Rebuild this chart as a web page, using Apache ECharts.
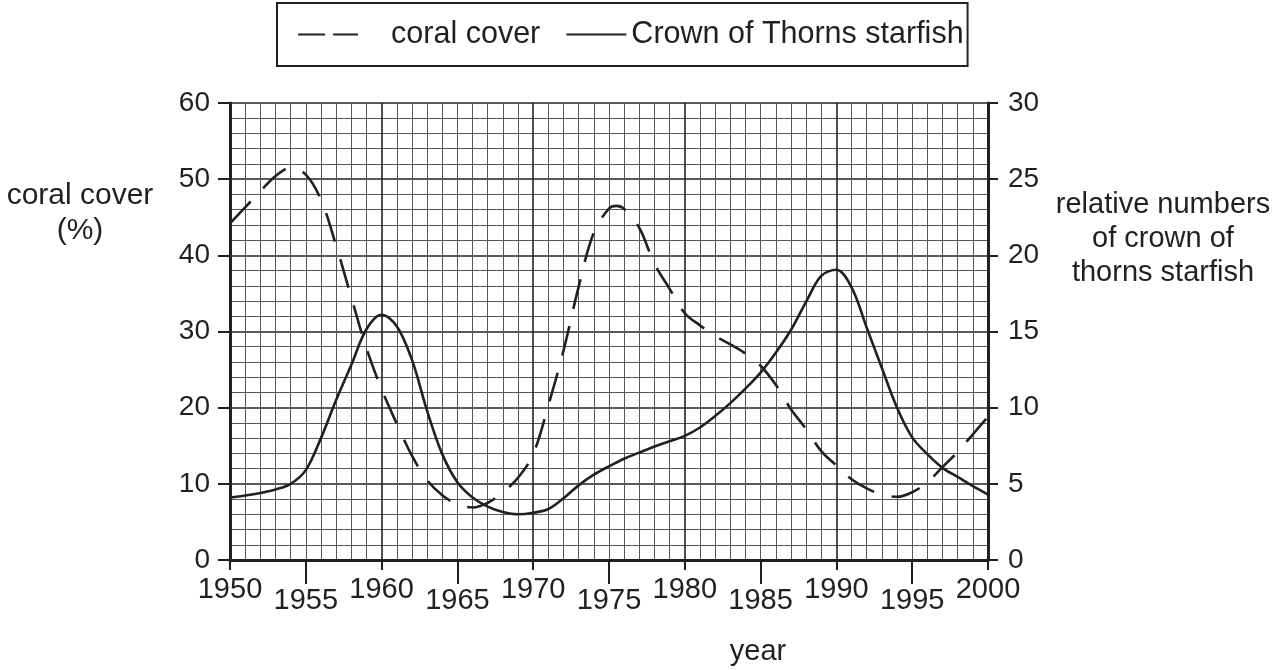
<!DOCTYPE html>
<html>
<head>
<meta charset="utf-8">
<script src="https://cdn.jsdelivr.net/npm/echarts@6/dist/echarts.min.js"></script>
<style>
html,body{margin:0;padding:0;background:#fff;}
#chart{width:1285px;height:670px;}
</style>
</head>
<body>
<div id="chart"></div>
<script>
// coral cover (%) – left axis
const coralYears = [1950,1951,1952,1953,1954,1955,1956,1957,1958,1959,1960,1961,1962,1963,1964,1965,1966,1967,1968,1969,1970,1971,1972,1973,1974,1975,1975.5,1976,1977,1978,1979,1980,1981,1982,1983,1984,1985,1986,1987,1988,1989,1990,1991,1992,1993,1994,1995,1996,1997,1998,1999,2000];
const coralCover = [44.2,46.3,48.4,50.4,51.5,50.6,47.3,41.3,34.5,27.8,22.4,17.9,13.7,10.5,8.5,7.3,6.9,7.5,8.9,10.8,13.9,20.3,27.5,35.9,43.0,46.15,46.5,46.1,43.6,38.9,35.6,32.4,30.8,29.4,28.3,27.1,25.5,23.0,19.8,17.2,14.3,12.4,10.6,9.4,8.6,8.3,8.9,10.2,12.2,14.2,16.5,18.8];
// relative numbers of crown of thorns starfish – right axis
const starfishYears = [1950,1951,1952,1953,1954,1955,1956,1957,1958,1959,1960,1961,1962,1963,1964,1965,1966,1967,1968,1969,1970,1971,1972,1973,1974,1975,1976,1977,1978,1979,1980,1981,1982,1983,1984,1985,1986,1987,1988,1989,1990,1991,1992,1993,1994,1995,1996,1997,1998,1999,2000];
const starfish = [4.1,4.23,4.4,4.63,5.0,5.9,8.0,10.5,12.8,15.15,16.1,15.35,13.15,9.8,6.95,5.1,4.1,3.5,3.15,3.0,3.1,3.35,4.05,4.9,5.6,6.15,6.65,7.05,7.45,7.8,8.15,8.7,9.45,10.3,11.25,12.3,13.6,15.1,16.95,18.65,19.05,17.9,15.25,12.6,10.0,8.05,6.95,6.05,5.45,4.85,4.3];
const xLabelsHigh = [1950,1960,1970,1980,1990,2000];
const xLabelsLow = [1955,1965,1975,1985,1995];
const seriesNames = ['coral cover','Crown of Thorns starfish'];

const FONT = "'Liberation Sans', Arial, Helvetica, sans-serif";
const INK = '#231f20';
const fmt = v => String(v);

const chart = echarts.init(document.getElementById('chart'));
chart.setOption({
  animation: false,
  backgroundColor: '#fff',
  textStyle: {fontFamily: FONT, color: INK},
  legend: {
    left: 277, top: 3,
    padding: [16, 4, 16, 20],
    borderColor: INK, borderWidth: 2,
    itemWidth: 60, itemHeight: 20, itemGap: 25,
    itemStyle: {opacity: 0},
    textStyle: {fontFamily: FONT, fontSize: 30.5, color: INK, lineHeight: 30},
    data: [
      {name: seriesNames[0], lineStyle: {type: [27, 8], width: 2.2}, textStyle: {padding: [0, 0, 0, 28]}},
      {name: seriesNames[1], lineStyle: {width: 2.2}}
    ]
  },
  grid: {left: 230, right: 297, top: 103, bottom: 110, show: false},
  xAxis: [{
    type: 'value', min: 1950, max: 2000, interval: 10, position: 'bottom',
    axisLine: {show: true, onZero: false, lineStyle: {color: INK, width: 3}},
    axisTick: {show: true, inside: false, length: 10, lineStyle: {color: INK, width: 2}},
    axisLabel: {margin: 15, fontSize: 29, color: INK, fontFamily: FONT, customValues: xLabelsHigh, formatter: fmt},
    splitLine: {show: true, lineStyle: {color: '#222', width: 1.6}},
    minorTick: {show: false, splitNumber: 10},
    minorSplitLine: {show: true, lineStyle: {color: '#555', width: 1}}
  }, {
    type: 'value', min: 1950, max: 2000, position: 'bottom',
    axisLine: {show: false},
    axisTick: {show: true, inside: false, length: 24, customValues: xLabelsLow, lineStyle: {color: INK, width: 2}},
    axisLabel: {margin: 26, fontSize: 29, color: INK, fontFamily: FONT, customValues: xLabelsLow, formatter: fmt},
    splitLine: {show: false}
  }],
  yAxis: [{
    type: 'value', min: 0, max: 60, interval: 10, position: 'left',
    axisLine: {show: true, lineStyle: {color: INK, width: 3}},
    axisTick: {show: true, inside: false, length: 12, lineStyle: {color: INK, width: 2}},
    axisLabel: {margin: 20, fontSize: 28, color: INK, fontFamily: FONT, formatter: fmt},
    splitLine: {show: true, lineStyle: {color: '#222', width: 1.6}},
    minorTick: {show: false, splitNumber: 5},
    minorSplitLine: {show: true, lineStyle: {color: '#555', width: 1}}
  }, {
    type: 'value', min: 0, max: 30, interval: 5, position: 'right',
    axisLine: {show: true, lineStyle: {color: INK, width: 3}},
    axisTick: {show: true, inside: false, length: 10, lineStyle: {color: INK, width: 2}},
    axisLabel: {margin: 20, fontSize: 28, color: INK, fontFamily: FONT, formatter: fmt},
    splitLine: {show: false}
  }],
  graphic: [
    {type: 'text', x: 80, y: 213, style: {text: 'coral cover\n(%)', fontSize: 30, fontFamily: FONT, fill: INK, align: 'center', verticalAlign: 'middle', lineHeight: 35}},
    {type: 'text', x: 1163, y: 239, style: {text: 'relative numbers\nof crown of\nthorns starfish', fontSize: 29, fontFamily: FONT, fill: INK, align: 'center', verticalAlign: 'middle', lineHeight: 34}},
    {type: 'text', x: 758, y: 652, style: {text: 'year', fontSize: 29, fontFamily: FONT, fill: INK, align: 'center', verticalAlign: 'middle'}}
  ],
  series: [{
    name: seriesNames[0], type: 'line', xAxisIndex: 0, yAxisIndex: 0,
    data: coralYears.map((y, i) => [y, coralCover[i]]),
    smooth: 0.35, symbol: 'none', z: 5,
    lineStyle: {color: INK, width: 2.6, type: [30, 18]},
    itemStyle: {color: INK}
  }, {
    name: seriesNames[1], type: 'line', xAxisIndex: 0, yAxisIndex: 1,
    data: starfishYears.map((y, i) => [y, starfish[i]]),
    smooth: 0.35, symbol: 'none', z: 5,
    lineStyle: {color: INK, width: 2.6, type: 'solid'},
    itemStyle: {color: INK}
  }]
});
</script>
</body>
</html>
